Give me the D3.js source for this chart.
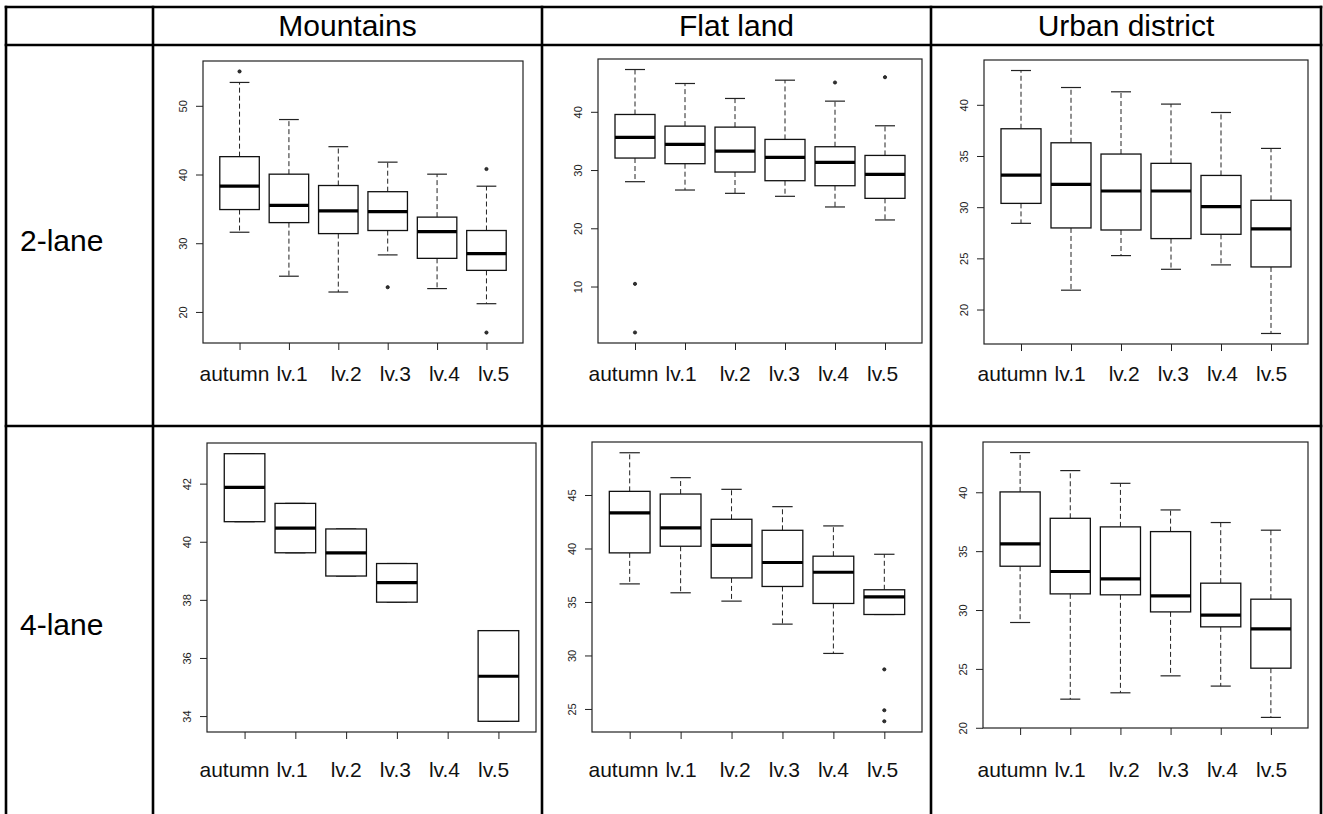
<!DOCTYPE html>
<html>
<head>
<meta charset="utf-8">
<script src="https://cdn.jsdelivr.net/npm/d3@7"></script>
<style>
  html, body { margin: 0; padding: 0; background: #fff; }
  svg { display: block; font-family: "Liberation Sans", Arial, sans-serif; }
</style>
</head>
<body>
<svg id="chart" width="1323" height="814"></svg>
<script>
// categories and table headers
const categories = ['autumn', 'lv.1', 'lv.2', 'lv.3', 'lv.4', 'lv.5'];
const terrains = ['Mountains', 'Flat land', 'Urban district'];
const lanes = ['2-lane', '4-lane'];

// box stats per category: [lower whisker, Q1, median, Q3, upper whisker]
const mountains2 = [
    [31.6, 34.9, 38.3, 42.6, 53.4],
    [25.2, 33.0, 35.5, 40.05, 48.0],
    [22.9, 31.4, 34.7, 38.4, 44.05],
    [28.3, 31.85, 34.6, 37.5, 41.8],
    [23.4, 27.8, 31.7, 33.8, 40.05],
    [21.2, 26.05, 28.5, 31.85, 38.3]
];
const mountains2Out = [[55.0], [], [], [23.6], [], [40.8, 17.0]];
const mountains2Ticks = [20, 30, 40, 50];

const flat2 = [
    [28.0, 32.06, 35.6, 39.54, 47.26],
    [26.57, 31.09, 34.4, 37.54, 44.86],
    [26.0, 29.66, 33.26, 37.37, 42.29],
    [25.49, 28.17, 32.17, 35.26, 45.43],
    [23.66, 27.31, 31.31, 34.0, 41.83],
    [21.43, 25.14, 29.26, 32.51, 37.6]
];
const flat2Out = [[10.46, 2.11], [], [], [], [45.03], [45.94]];
const flat2Ticks = [10, 20, 30, 40];

const urban2 = [
    [28.42, 30.37, 33.14, 37.66, 43.35],
    [21.89, 27.97, 32.23, 36.29, 41.69],
    [25.27, 27.77, 31.58, 35.19, 41.27],
    [23.93, 26.93, 31.58, 34.28, 40.07],
    [24.36, 27.35, 30.05, 33.1, 39.25],
    [17.66, 24.16, 27.87, 30.67, 35.74]
];
const urban2Out = [[], [], [], [], [], []];
const urban2Ticks = [20, 25, 30, 35, 40];

const mountains4 = [
    [40.69, 40.69, 41.87, 43.03, 43.03],
    [39.62, 39.62, 40.47, 41.32, 41.32],
    [38.82, 38.82, 39.62, 40.44, 40.44],
    [37.92, 37.92, 38.59, 39.25, 39.25],
    null,
    [33.82, 33.82, 35.37, 36.94, 36.94]
];
const mountains4Out = [[], [], [], [], [], []];
const mountains4Ticks = [34, 36, 38, 40, 42];

const flat4 = [
    [36.69, 39.59, 43.32, 45.34, 48.95],
    [35.86, 40.21, 41.92, 45.09, 46.62],
    [35.08, 37.25, 40.3, 42.73, 45.53],
    [32.93, 36.45, 38.69, 41.7, 43.91],
    [30.19, 34.86, 37.78, 39.28, 42.11],
    [33.83, 33.83, 35.48, 36.14, 39.46]
];
const flat4Out = [[], [], [], [], [], [28.7, 24.88, 23.85]];
const flat4Ticks = [25, 30, 35, 40, 45];

const urban4 = [
    [28.94, 33.72, 35.62, 40.03, 43.37],
    [22.43, 31.37, 33.27, 37.79, 41.84],
    [22.97, 31.29, 32.65, 37.06, 40.76],
    [24.41, 29.84, 31.2, 36.66, 38.5],
    [23.54, 28.57, 29.56, 32.28, 37.43],
    [20.88, 25.06, 28.4, 30.92, 36.78]
];
const urban4Out = [[], [], [], [], [], []];
const urban4Ticks = [20, 25, 30, 35, 40];

// layout of the table and of each plot frame
const colX = [6, 153, 542, 931, 1321];
const rowY = [7, 45, 426, 814];
const panels = [
    {stats: mountains2, out: mountains2Out, ticks: mountains2Ticks, row: 0, col: 0, box: [203, 61, 523, 343], labelY: 381},
    {stats: flat2, out: flat2Out, ticks: flat2Ticks, row: 0, col: 1, box: [598, 59, 922, 343], labelY: 381},
    {stats: urban2, out: urban2Out, ticks: urban2Ticks, row: 0, col: 2, box: [984, 60, 1308, 344], labelY: 381},
    {stats: mountains4, out: mountains4Out, ticks: mountains4Ticks, row: 1, col: 0, box: [207, 443, 536, 732], labelY: 777},
    {stats: flat4, out: flat4Out, ticks: flat4Ticks, row: 1, col: 1, box: [592, 442, 922, 732], labelY: 777},
    {stats: urban4, out: urban4Out, ticks: urban4Ticks, row: 1, col: 2, box: [983, 442, 1308, 728], labelY: 777}
];
const labelGaps = [0, 7, 23, 18, 18, 18];

const svg = d3.select('#chart');

// table text
svg.selectAll('.head')
    .data(terrains)
    .enter().append('text')
    .attr('class', 'head')
    .attr('x', function(d, i) { return (colX[i + 1] + colX[i + 2]) / 2; })
    .attr('y', 36)
    .attr('text-anchor', 'middle')
    .style('font-size', '30px')
    .text(function(d) { return d; });

svg.selectAll('.lane')
    .data(lanes)
    .enter().append('text')
    .attr('class', 'lane')
    .attr('x', 20)
    .attr('y', function(d, i) { return (rowY[i + 1] + rowY[i + 2]) / 2 + 15; })
    .style('font-size', '30px')
    .text(function(d) { return d; });

function drawPanel(p) {
    var x0 = p.box[0], y0 = p.box[1], x1 = p.box[2], y1 = p.box[3];
    var all = [];
    p.stats.forEach(function(s, i) {
        if (s) all = all.concat(s);
        all = all.concat(p.out[i]);
    });
    var lo = d3.min(all), hi = d3.max(all), pad = (hi - lo) * 0.04;

    var y = d3.scaleLinear().domain([lo - pad, hi + pad]).range([y1, y0]);
    var x = d3.scalePoint().domain(categories).range([x0, x1]).padding(0.74);
    var boxW = x.step() * 0.8;

    var g = svg.append('g');

    // plot frame
    g.append('rect')
        .attr('x', x0).attr('y', y0)
        .attr('width', x1 - x0).attr('height', y1 - y0)
        .attr('fill', 'none').attr('stroke', '#222').attr('stroke-width', 1.2);

    // axes
    var yAxis = d3.axisLeft(y).tickValues(p.ticks).tickSize(7).tickSizeOuter(0);
    var ya = g.append('g').attr('transform', 'translate(' + x0 + ',0)').call(yAxis);
    ya.select('.domain').remove();
    ya.selectAll('line').attr('stroke', '#222');
    ya.selectAll('text')
        .attr('transform', 'rotate(-90)')
        .attr('text-anchor', 'middle')
        .attr('x', 0).attr('y', -16).attr('dy', 0)
        .attr('fill', '#222')
        .style('font-size', '11px')
        .style('font-family', '"Liberation Sans", Arial, sans-serif');

    var xAxis = d3.axisBottom(x).tickSize(7).tickSizeOuter(0).tickFormat('');
    var xa = g.append('g').attr('transform', 'translate(0,' + y1 + ')').call(xAxis);
    xa.select('.domain').remove();
    xa.selectAll('line').attr('stroke', '#222');

    // boxes
    var items = p.stats.map(function(s, i) { return {cat: categories[i], s: s, out: p.out[i]}; })
        .filter(function(d) { return d.s; });
    var b = g.selectAll('.bx').data(items).enter().append('g').attr('class', 'bx');

    b.append('line')
        .attr('x1', function(d) { return x(d.cat); }).attr('x2', function(d) { return x(d.cat); })
        .attr('y1', function(d) { return y(d.s[3]); }).attr('y2', function(d) { return y(d.s[4]); })
        .attr('stroke', '#222').attr('stroke-dasharray', '5,3');
    b.append('line')
        .attr('x1', function(d) { return x(d.cat); }).attr('x2', function(d) { return x(d.cat); })
        .attr('y1', function(d) { return y(d.s[1]); }).attr('y2', function(d) { return y(d.s[0]); })
        .attr('stroke', '#222').attr('stroke-dasharray', '5,3');
    [0, 4].forEach(function(k) {
        b.append('line')
            .attr('x1', function(d) { return x(d.cat) - boxW / 4; })
            .attr('x2', function(d) { return x(d.cat) + boxW / 4; })
            .attr('y1', function(d) { return y(d.s[k]); }).attr('y2', function(d) { return y(d.s[k]); })
            .attr('stroke', '#222').attr('stroke-width', 1.2);
    });
    b.append('rect')
        .attr('x', function(d) { return x(d.cat) - boxW / 2; })
        .attr('y', function(d) { return y(d.s[3]); })
        .attr('width', boxW)
        .attr('height', function(d) { return y(d.s[1]) - y(d.s[3]); })
        .attr('fill', '#fff').attr('stroke', '#111').attr('stroke-width', 1.3);
    b.append('line')
        .attr('x1', function(d) { return x(d.cat) - boxW / 2; })
        .attr('x2', function(d) { return x(d.cat) + boxW / 2; })
        .attr('y1', function(d) { return y(d.s[2]); }).attr('y2', function(d) { return y(d.s[2]); })
        .attr('stroke', '#000').attr('stroke-width', 3.2);
    b.selectAll('circle')
        .data(function(d) { return d.out.map(function(v) { return {cat: d.cat, v: v}; }); })
        .enter().append('circle')
        .attr('cx', function(d) { return x(d.cat); })
        .attr('cy', function(d) { return y(d.v); })
        .attr('r', 1.6)
        .attr('fill', '#333').attr('stroke', '#111').attr('stroke-width', 0.8);

    // category labels under the plot
    var lab = g.append('text')
        .attr('x', colX[p.col + 1] + 46.5)
        .attr('y', p.labelY)
        .attr('fill', '#111')
        .style('font-size', '21px');
    lab.selectAll('tspan')
        .data(categories)
        .enter().append('tspan')
        .attr('dx', function(d, i) { return labelGaps[i]; })
        .text(function(d) { return d; });
}

panels.forEach(drawPanel);

// table grid
var grid = svg.append('g').attr('stroke', '#000').attr('stroke-width', 2.6);
rowY.slice(0, 3).forEach(function(yy) {
    grid.append('line').attr('x1', colX[0] - 1.3).attr('x2', colX[4] + 1.3).attr('y1', yy).attr('y2', yy);
});
colX.forEach(function(xx) {
    grid.append('line').attr('x1', xx).attr('x2', xx).attr('y1', rowY[0] - 1.3).attr('y2', rowY[3]);
});
</script>
</body>
</html>
